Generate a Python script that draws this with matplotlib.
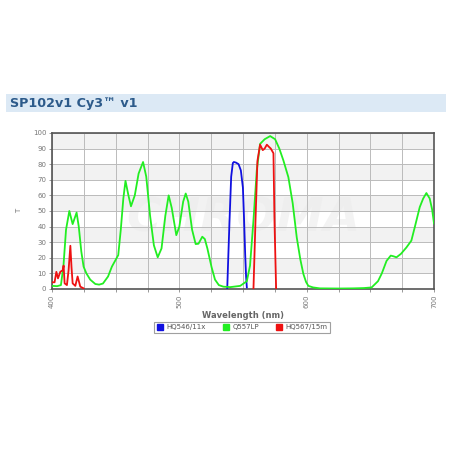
import matplotlib
matplotlib.use("Agg")
import matplotlib.pyplot as plt
from matplotlib.patches import Rectangle, Patch

title = "SP102v1 Cy3\u2122 v1"
series_names = ["HQ546/11x", "Q557LP", "HQ567/15m"]
series_colors = ["#1010e0", "#22ee22", "#ee1111"]

blue_wl = [537.6, 538.2, 539.4, 540.7, 542.0, 542.8, 544.5, 546.5, 548.3, 549.9, 550.8, 551.7, 552.4, 553.0]
blue_t = [0, 15, 44, 72, 80.7, 81.4, 81.0, 80.0, 76, 65, 45, 22, 8, 1]

green_wl = [400, 404, 407, 409, 411, 413.6, 416.2, 419.3, 421, 423, 424.8, 427, 430, 434, 437, 440, 444, 447,
            452, 454, 456, 457.7, 460, 462, 465, 468, 471.5, 474, 477, 480, 483, 486, 489, 491.6, 494, 497.6,
            500, 503, 505, 507, 510, 512.8, 515, 518, 520, 522, 525.3, 528, 531, 534.5, 540, 547.8, 553, 555.5,
            558.2, 560.8, 563.4, 567, 571.3, 575.2, 578.5, 581.7, 585.6, 589, 592.2, 595, 597.4, 599.5, 601.3,
            605, 610.4, 625, 636.6, 645, 651, 656, 659, 662.7, 666, 668, 670.5, 674, 678.3, 682.2, 685,
            688.8, 691.5, 694, 696.6, 698.5, 700]
green_t = [2.0, 1.8, 2.5, 15, 38, 50, 41.6, 49, 40, 24, 14.3, 10, 6, 3.2, 2.8, 3.5, 8, 14.3,
           21.7, 38, 58, 69.3, 60, 53, 60, 74, 81.4, 72, 47, 28, 20.3, 26, 47, 60, 52, 34.5,
           40, 56, 61.2, 56, 38, 28.8, 29, 33.5, 32, 26, 14, 6, 2.5, 1.5, 1.2, 2, 5, 15,
           44, 76, 93, 96, 98, 96, 90, 82.4, 71.7, 55, 33, 19, 9.6, 4.5, 2,
           1, 0.4, 0.3, 0.4, 0.6, 1, 5, 10, 18, 21.4, 21, 20.3, 22.5, 26.6, 31, 40,
           52.5, 58, 61.5, 58, 51, 42]

# red filter drawn as two visible pieces (blue-side leakage and main passband)
red_wl_a = [400, 402, 403.4, 404.7, 406.5, 408.4, 409.1, 409.9, 411.7, 413, 414.4, 415.3, 416.2, 418.3, 420.1,
            422.2, 424.8]
red_t_a = [4.3, 4.3, 11, 6.8, 11, 12, 15, 3.6, 2.5, 12, 27.7, 14, 3.6, 2, 8,
           1.5, 0.4]
red_wl_b = [558.2, 559.8, 561.3, 563.4, 565.5, 567, 568.7, 570.5, 571.8, 573.9, 574.7, 576]
red_t_b = [0, 44, 82, 92.5, 89, 90, 92.5, 91, 90, 87, 44, 0]

x_ticks = [400, 500, 600, 700]
y_ticks = [0, 10, 20, 30, 40, 50, 60, 70, 80, 90, 100]

fig = plt.figure(figsize=(4.5, 4.5), dpi=100)
fig.patch.set_facecolor("white")

fig.patches.append(Rectangle((0.013, 0.751), 0.978, 0.040, transform=fig.transFigure,
                             facecolor="#dce9f5", edgecolor="none"))
fig.text(0.022, 0.771, title, color="#2c5a8a", fontsize=9.2, fontweight="bold",
         va="center", ha="left", family="DejaVu Sans")

ax = fig.add_axes([0.1156, 0.3578, 0.8489, 0.3467])
ax.set_facecolor("white")
for i in range(1, 10, 2):
    ax.axhspan(i * 10, i * 10 + 10, facecolor="#f2f2f2", edgecolor="none", zorder=0)

ax.set_xlim(400, 700)
ax.set_ylim(0, 100)
grid_x = list(range(400, 701, 25))
ax.set_xticks(grid_x)
ax.set_xticklabels([str(v) if v in x_ticks else "" for v in grid_x],
                   rotation=90, fontsize=5, color="#777777")
ax.set_yticks(y_ticks)
ax.set_yticklabels([str(v) for v in y_ticks], fontsize=5, color="#777777")
ax.tick_params(axis="both", length=2, width=0.6, color="#888888", pad=2)
ax.grid(True, color="#bbbbbb", linewidth=0.7, zorder=1)
for s in ax.spines.values():
    s.set_color("#555555")
    s.set_linewidth(1.2)

ax.text(0.5, 0.45, "CHROMA", transform=ax.transAxes, fontsize=34, fontstyle="italic",
        fontweight="bold", color="#ececec", ha="center", va="center", zorder=1.5, alpha=0.6)

ax.plot(blue_wl, blue_t, color=series_colors[0], linewidth=1.3, zorder=3)
ax.plot(green_wl, green_t, color=series_colors[1], linewidth=1.3, zorder=3)
ax.plot(red_wl_a, red_t_a, color=series_colors[2], linewidth=1.3, zorder=4)
ax.plot(red_wl_b, red_t_b, color=series_colors[2], linewidth=1.3, zorder=4)

ax.set_xlabel("Wavelength (nm)", fontsize=6, fontweight="bold", color="#666666", labelpad=2)
ax.set_ylabel("T", fontsize=5, color="#777777", labelpad=8)

handles = [Patch(facecolor=c, edgecolor=c) for c in series_colors]
leg = fig.legend(handles, series_names, loc="center", bbox_to_anchor=(0.538, 0.273), ncol=3,
                 fontsize=5, frameon=True, fancybox=False, handlelength=0.9, handleheight=0.9,
                 columnspacing=2.4, handletextpad=0.5, borderpad=0.35)
leg.get_frame().set_edgecolor("#888888")
leg.get_frame().set_linewidth(0.8)
for t in leg.get_texts():
    t.set_color("#555555")

fig.savefig("out.png", dpi=100)
